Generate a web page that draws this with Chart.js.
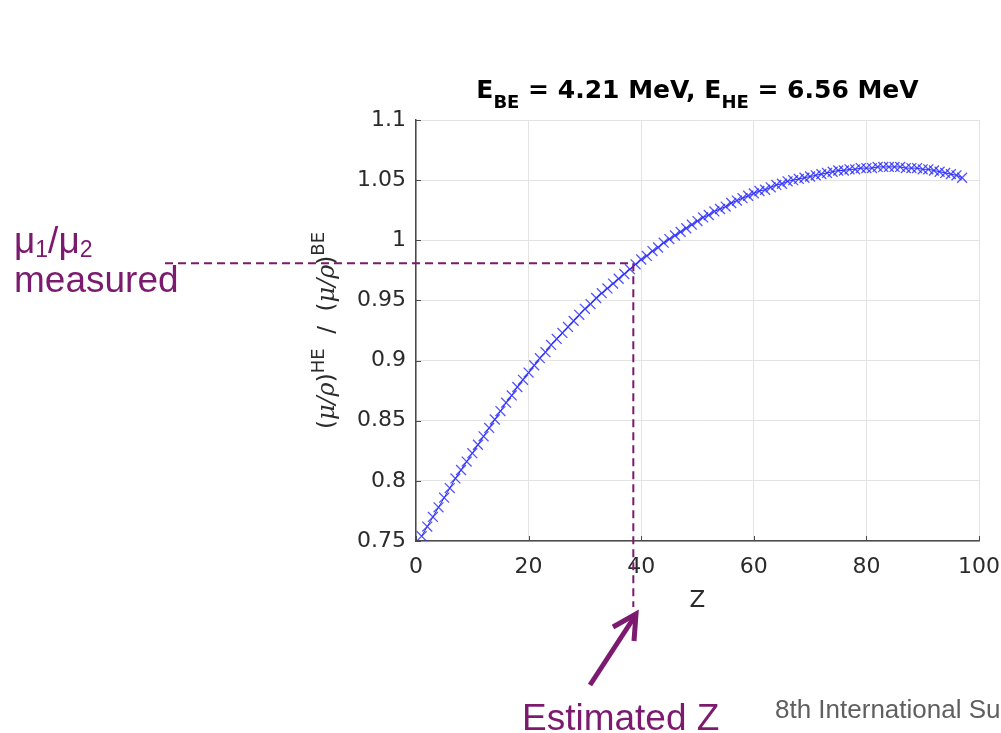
<!DOCTYPE html>
<html>
<head>
<meta charset="utf-8">
<script src="https://cdn.jsdelivr.net/npm/chart.js@4/dist/chart.umd.min.js"></script>
<style>
  html, body { margin: 0; padding: 0; background: #ffffff; }
  #wrap { width: 1001px; height: 733px; position: relative; }
</style>
</head>
<body>
<div id="wrap"><canvas id="c" width="1001" height="733"></canvas></div>
<script>
// Atomic number of each element
const zValues = [
  1, 2, 3, 4, 5, 6, 7, 8, 9, 10, 11, 12, 13, 14, 15, 16, 17, 18, 19, 20,
  21, 22, 23, 24, 25, 26, 27, 28, 29, 30, 31, 32, 33, 34, 35, 36, 37, 38, 39, 40,
  41, 42, 43, 44, 45, 46, 47, 48, 49, 50, 51, 52, 53, 54, 55, 56, 57, 58, 59, 60,
  61, 62, 63, 64, 65, 66, 67, 68, 69, 70, 71, 72, 73, 74, 75, 76, 77, 78, 79, 80,
  81, 82, 83, 84, 85, 86, 87, 88, 89, 90, 91, 92, 93, 94, 95, 96, 97
];
// Ratio of mass attenuation coefficients, high-energy over low-energy beam
const ratioValues = [
  0.754, 0.762, 0.770, 0.778, 0.786, 0.794, 0.802, 0.809, 0.816, 0.823,
  0.830, 0.837, 0.844, 0.851, 0.858, 0.865, 0.871, 0.878, 0.884, 0.890,
  0.896, 0.902, 0.907, 0.913, 0.918, 0.923, 0.928, 0.933, 0.938, 0.943,
  0.947, 0.952, 0.956, 0.960, 0.964, 0.968, 0.972, 0.976, 0.980, 0.984,
  0.987, 0.991, 0.994, 0.998, 1.001, 1.004, 1.007, 1.010, 1.013, 1.016,
  1.019, 1.021, 1.024, 1.026, 1.028, 1.031, 1.033, 1.035, 1.037, 1.039,
  1.041, 1.042, 1.044, 1.046, 1.047, 1.049, 1.050, 1.051, 1.052, 1.053,
  1.054, 1.055, 1.056, 1.057, 1.058, 1.058, 1.059, 1.059, 1.060, 1.060,
  1.060, 1.061, 1.061, 1.061, 1.061, 1.061, 1.060, 1.060, 1.060, 1.059,
  1.059, 1.058, 1.057, 1.056, 1.055, 1.054, 1.052
];
const xTicks = [0, 20, 40, 60, 80, 100];
const yTicks = [0.75, 0.8, 0.85, 0.9, 0.95, 1, 1.05, 1.1];

// Measured ratio and the Z it maps to on the curve
const measuredRatio = 0.981;
const estimatedZ = 38.6;

const PURPLE = '#7b1a6e';
const AXIS = '#2b2b2b';
const SANS = '"DejaVu Sans", sans-serif';
const ARIAL = '"Liberation Sans", Arial, sans-serif';

const points = zValues.map((z, i) => ({ x: z, y: ratioValues[i] }));

// Draws a run of text pieces with sub/superscript offsets, left to right
function drawPieces(ctx, pieces, x, y) {
  let cx = x;
  for (const p of pieces) {
    ctx.font = p.font;
    ctx.fillText(p.text, cx, y + (p.dy || 0));
    cx += ctx.measureText(p.text).width;
  }
  return cx;
}
function measurePieces(ctx, pieces) {
  let w = 0;
  for (const p of pieces) { ctx.font = p.font; w += ctx.measureText(p.text).width; }
  return w;
}

const annotations = {
  id: 'annotations',
  afterDatasetsDraw(chart) {
    const { ctx, chartArea: a, scales: { x, y } } = chart;

    // short inward tick marks along both axes
    ctx.save();
    ctx.strokeStyle = '#4a4a4a';
    ctx.lineWidth = 1;
    ctx.beginPath();
    for (const v of xTicks) {
      const tx = Math.round(x.getPixelForValue(v)) + 0.5;
      ctx.moveTo(tx, a.bottom); ctx.lineTo(tx, a.bottom - 5);
    }
    for (const v of yTicks) {
      const ty = Math.round(y.getPixelForValue(v)) + 0.5;
      ctx.moveTo(a.left, ty); ctx.lineTo(a.left + 5, ty);
    }
    ctx.stroke();
    ctx.restore();

    // dashed guide from the measured ratio to the estimated Z
    const px = x.getPixelForValue(estimatedZ);
    const py = y.getPixelForValue(measuredRatio);
    ctx.save();
    ctx.strokeStyle = PURPLE;
    ctx.lineWidth = 2;
    ctx.setLineDash([8, 5]);
    ctx.beginPath();
    ctx.moveTo(165, py);
    ctx.lineTo(px, py);
    ctx.moveTo(px, py);
    ctx.lineTo(px, 607);
    ctx.stroke();
    ctx.restore();
  },
  afterDraw(chart) {
    const { ctx, chartArea: a } = chart;
    ctx.save();
    ctx.textBaseline = 'alphabetic';

    // Title with subscripts
    ctx.fillStyle = '#000000';
    const tb = 'bold 25px ' + SANS, ts = 'bold 18px ' + SANS;
    const title = [
      { text: 'E', font: tb }, { text: 'BE', font: ts, dy: 10 },
      { text: ' = 4.21 MeV, E', font: tb }, { text: 'HE', font: ts, dy: 10 },
      { text: ' = 6.56 MeV', font: tb }
    ];
    const tw = measurePieces(ctx, title);
    drawPieces(ctx, title, (a.left + a.right) / 2 - tw / 2, 98);

    // x-axis title
    ctx.fillStyle = AXIS;
    ctx.font = '23px ' + SANS;
    ctx.textAlign = 'center';
    ctx.fillText('Z', (a.left + a.right) / 2, 607);
    ctx.textAlign = 'left';

    // y-axis title, rotated
    const serifIt = 'italic 24px "DejaVu Serif", "Liberation Serif", serif';
    const nm = '23px ' + SANS, sup = '18px ' + SANS;
    const ylab = [
      { text: '(', font: nm }, { text: 'μ/ρ', font: serifIt }, { text: ')', font: nm },
      { text: 'HE', font: sup, dy: -10 },
      { text: '  /  (', font: nm }, { text: 'μ/ρ', font: serifIt }, { text: ')', font: nm },
      { text: 'BE', font: sup, dy: -10 }
    ];
    const yw = measurePieces(ctx, ylab);
    ctx.translate(334, (a.top + a.bottom) / 2);
    ctx.rotate(-Math.PI / 2);
    drawPieces(ctx, ylab, -yw / 2, 0);
    ctx.setTransform(1, 0, 0, 1, 0, 0);

    // Left-hand annotation
    ctx.fillStyle = PURPLE;
    const big = '37px ' + ARIAL, small = '23px ' + ARIAL;
    drawPieces(ctx, [
      { text: 'μ', font: big }, { text: '1', font: small, dy: 4 },
      { text: '/', font: big },
      { text: 'μ', font: big }, { text: '2', font: small, dy: 4 }
    ], 14, 253);
    ctx.font = big;
    ctx.fillText('measured', 14, 292);

    // Arrow pointing at the estimated Z
    ctx.strokeStyle = PURPLE;
    ctx.lineWidth = 5;
    ctx.lineCap = 'butt';
    ctx.lineJoin = 'miter';
    const tipX = 636, tipY = 614;
    ctx.beginPath();
    ctx.moveTo(590, 685);
    ctx.lineTo(tipX - 1, tipY + 2);
    ctx.stroke();
    ctx.beginPath();
    ctx.moveTo(613, 627);
    ctx.lineTo(tipX, tipY);
    ctx.lineTo(634, 641);
    ctx.stroke();

    ctx.font = big;
    ctx.fillText('Estimated Z', 522, 730);

    // Footer
    ctx.fillStyle = '#5f5f5f';
    ctx.font = '26px ' + ARIAL;
    ctx.fillText('8th International Su', 775, 718);
    ctx.restore();
  }
};

const fmt = v => String(Number(v.toFixed(2)));

new Chart(document.getElementById('c'), {
  type: 'scatter',
  data: {
    datasets: [{
      data: points,
      showLine: true,
      borderColor: 'rgba(20, 20, 240, 0.9)',
      borderWidth: 1,
      pointStyle: 'crossRot',
      pointRadius: 7,
      pointBorderWidth: 1.3,
      pointBorderColor: 'rgba(40, 40, 255, 0.8)',
      pointHoverRadius: 7
    }]
  },
  options: {
    responsive: false,
    animation: false,
    devicePixelRatio: 1,
    layout: { padding: { top: 120, right: 22, left: 0, bottom: 0 } },
    plugins: { legend: { display: false }, tooltip: { enabled: false }, title: { display: false } },
    scales: {
      x: {
        type: 'linear', min: 0, max: 100,
        afterFit: s => { s.height = 192; s.paddingLeft = 0; s.paddingRight = 0; },
        afterBuildTicks: s => { s.ticks = xTicks.map(v => ({ value: v })); },
        ticks: { color: AXIS, font: { family: SANS, size: 22 }, padding: 13, callback: fmt, maxRotation: 0 },
        grid: { color: '#e3e3e3', lineWidth: 1, drawTicks: false },
        border: { display: true, color: '#4a4a4a', width: 1.5 }
      },
      y: {
        type: 'linear', min: 0.75, max: 1.1,
        afterFit: s => { s.width = 416; s.paddingTop = 0; s.paddingBottom = 0; },
        afterBuildTicks: s => { s.ticks = yTicks.map(v => ({ value: v })); },
        ticks: { color: AXIS, font: { family: SANS, size: 22 }, padding: 10, callback: fmt },
        grid: { color: '#e3e3e3', lineWidth: 1, drawTicks: false },
        border: { display: true, color: '#4a4a4a', width: 1.5 }
      }
    }
  },
  plugins: [annotations]
});
</script>
</body>
</html>
